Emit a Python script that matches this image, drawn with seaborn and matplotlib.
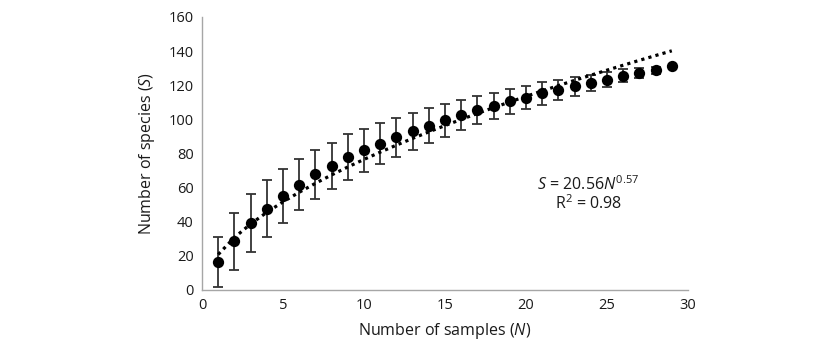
import numpy as np
import pandas as pd
import matplotlib
matplotlib.use("Agg")
import matplotlib.pyplot as plt
import seaborn as sns

# ---- data ----
samples = list(range(1, 30))
species = [16.3, 28.4, 39.0, 47.4, 54.9, 61.6, 67.8, 72.5, 77.6, 81.8,
           85.7, 89.4, 92.9, 96.1, 99.4, 102.4, 105.3, 107.6, 110.4, 112.7,
           115.1, 117.3, 119.2, 121.2, 123.3, 125.5, 127.1, 128.8, 131.0]
errors = [14.7, 16.7, 17.0, 16.7, 15.8, 15.0, 14.4, 13.7, 13.5, 12.6,
          12.0, 11.5, 10.8, 10.2, 9.7, 9.0, 8.3, 7.7, 7.3, 7.0,
          6.6, 6.0, 5.4, 4.9, 4.4, 3.8, 3.0, 2.0, 0.0]
# power-law trendline coefficients shown on the chart
fit_a = 20.56
fit_b = 0.57
x_ticks = [0, 5, 10, 15, 20, 25, 30]
y_ticks = [0, 20, 40, 60, 80, 100, 120, 140, 160]

df = pd.DataFrame({"N": samples, "S": species, "err": errors})
df["fit"] = fit_a * df["N"] ** fit_b

sns.set_theme(style="white")
plt.rcParams['font.family'] = ['Open Sans', 'DejaVu Sans']
plt.rcParams['mathtext.fontset'] = 'custom'
plt.rcParams['mathtext.rm'] = 'Open Sans'
plt.rcParams['mathtext.it'] = 'Open Sans:italic'
plt.rcParams['mathtext.bf'] = 'Open Sans:bold'

fig = plt.figure(figsize=(8.25, 3.49), dpi=100)
ax = fig.add_axes([202/825, 1-289.5/349, (688-202)/825, (289.5-17)/349])

ax.errorbar(df["N"], df["S"], yerr=df["err"], fmt="none", ecolor="#333333",
            elinewidth=1.3, capsize=3.4, capthick=1.3, zorder=2)
sns.lineplot(data=df, x="N", y="fit", ax=ax, color="black", lw=2.3,
             linestyle=(0, (1, 1.3)), zorder=3)
sns.scatterplot(data=df, x="N", y="S", ax=ax, color="black", s=66,
                edgecolor="black", linewidth=0, zorder=4)

ax.set_xlim(0, 30)
ax.set_ylim(0, 160)
ax.set_xticks(x_ticks)
ax.set_yticks(y_ticks)
ax.tick_params(axis="both", length=0, labelsize=10.5, colors="#1a1a1a", pad=6)
for s in ["top", "right"]:
    ax.spines[s].set_visible(False)
for s in ["left", "bottom"]:
    ax.spines[s].set_color("#a6a6a6")
    ax.spines[s].set_linewidth(1.0)

ax.set_xlabel("Number of samples ($\\mathit{N}$)", fontsize=11.5, color="#1a1a1a", labelpad=6)
ax.set_ylabel("Number of species ($\\mathit{S}$)", fontsize=11.5, color="#1a1a1a", labelpad=8)

ax.text(0.795, 0.35, "$\\mathit{S}$ = 20.56$\\mathit{N}^{0.57}$\nR$^{2}$ = 0.98",
        transform=ax.transAxes, ha="center", va="center", multialignment="center",
        fontsize=11.5, color="#1a1a1a", linespacing=1.0)

fig.savefig("out.png", dpi=100)
